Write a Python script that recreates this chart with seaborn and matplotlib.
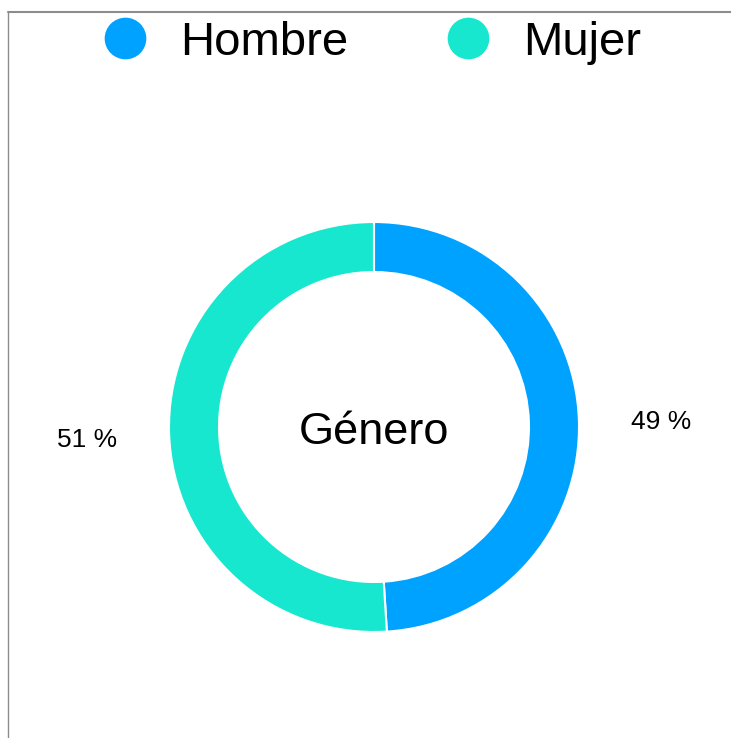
import matplotlib
matplotlib.use('Agg')
import matplotlib.pyplot as plt
import seaborn as sns
from matplotlib.lines import Line2D

## DATA ##
categories = ['Hombre', 'Mujer']
shares = [49, 51]
colours = ['#00A2FF', '#18E7CF']
centre_label = 'Género'

## STYLE ##
sns.set_style('white')
plt.rcParams['font.family'] = ['Liberation Sans', 'DejaVu Sans']
plt.rcParams['text.color'] = 'black'

W, H = 731, 738
fig = plt.figure(figsize=(W / 100, H / 100), dpi=100)

# donut: centre (374, 427) px, outer radius 205 px
cx, cy, r = 374, 427, 205
ax = fig.add_axes([(cx - r) / W, (H - cy - r) / H, 2 * r / W, 2 * r / H])
palette = sns.color_palette(colours)
wedges, _, autotexts = ax.pie(shares, colors=palette, startangle=90, counterclock=False,
                              radius=1, autopct=lambda p: f'{p:.0f} %', pctdistance=1.4,
                              wedgeprops=dict(width=0.244, edgecolor='white', linewidth=1.5))
for t in autotexts:
    t.set_fontsize(19)
    t.set_color('black')
    t.set_clip_on(False)
    x, y = t.get_position()
    t.set_position((x, y - 0.02))  # sit slightly lower, like the original
ax.text(0, -0.025, centre_label, ha='center', va='center', fontsize=32.5, color='black')
ax.set_xlim(-1, 1)
ax.set_ylim(-1, 1)
ax.set_aspect('equal')
ax.axis('off')

# legend with round markers
handles = [Line2D([], [], marker='o', linestyle='', markersize=31, markerfacecolor=c,
                  markeredgecolor='white', markeredgewidth=1) for c in palette]
leg = fig.legend(handles, categories, loc='center', bbox_to_anchor=(371 / W, 1 - 43 / H),
                 ncol=2, frameon=False, fontsize=34, handlelength=1.0, handletextpad=0.67,
                 columnspacing=2.03, borderpad=0)
for t in leg.get_texts():
    t.set_color('black')

# frame lines at top and left
fig.add_artist(Line2D([8 / W, 1], [1 - 12 / H, 1 - 12 / H], color='#8c8c8c', linewidth=1.5))
fig.add_artist(Line2D([8 / W, 8 / W], [0, 1 - 12 / H], color='#8c8c8c', linewidth=1.0))

fig.savefig('out.png', dpi=100)
